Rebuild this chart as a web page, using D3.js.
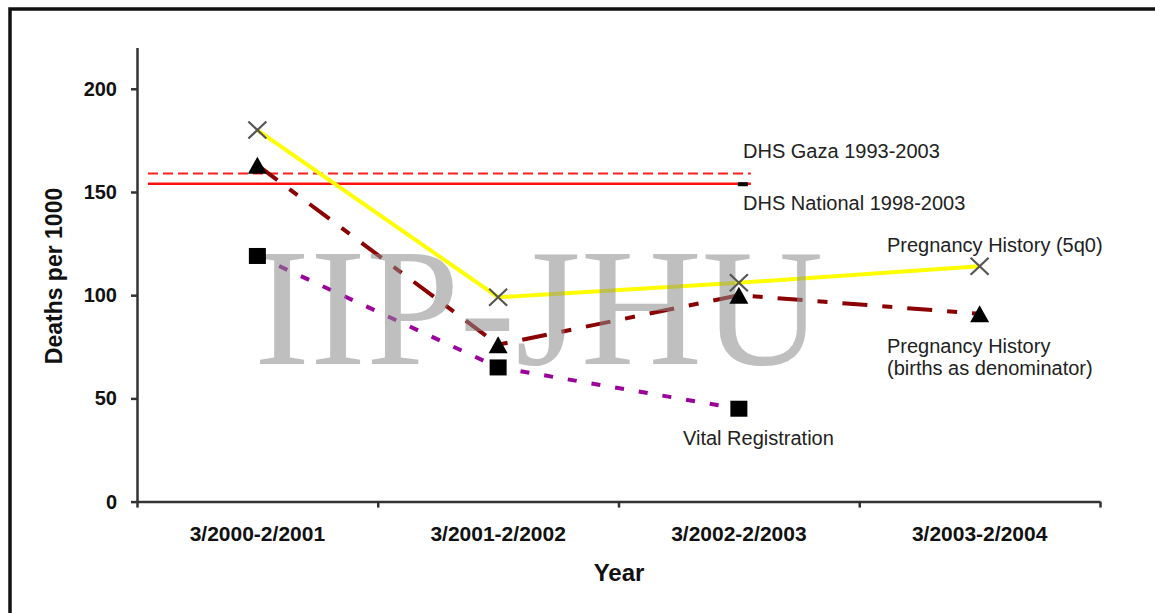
<!DOCTYPE html>
<html>
<head>
<meta charset="utf-8">
<script src="https://cdn.jsdelivr.net/npm/d3@7"></script>
<style>
    body { margin: 0; background: #fff; }
    text { font-family: "Liberation Sans", Arial, sans-serif; }
    .axis path, .axis line { stroke: #333; stroke-width: 2.5; }
    .axis text { font-size: 20px; font-weight: bold; fill: #111; font-family: "Liberation Sans", Arial, sans-serif; }
    .xAxis text { font-size: 21px; }
    .axisTitle { font-weight: bold; fill: #111; }
    .note { font-size: 20px; fill: #222; }
    .watermark { font-family: "Liberation Serif", "Times New Roman", serif; font-size: 168px; fill: #8c8c8c; opacity: 0.55; }
</style>
</head>
<body>
<div id="chart"></div>
<script>
/** ********************************
 *           Data
 ********************************** */

const categories = ["3/2000-2/2001", "3/2001-2/2002", "3/2002-2/2003", "3/2003-2/2004"];

// Deaths per 1000, one value per category (null = no value)
const pregnancyHistory5q0 = [180, 99, 106, 114];
const pregnancyHistoryBirths = [163, 76, 100, 91];
const vitalRegistration = [119, 65, 45, null];

// Reference levels
const dhsGaza = 159;
const dhsNational = 154;

const yTicks = [0, 50, 100, 150, 200];
const yMax = 220;

/** ********************************
 *           Layout
 ********************************** */

const plotWidth = 1155;
const plotHeight = 613;

const plot = { left: 137, right: 1100, top: 47.5, bottom: 501.6 };

var svg = d3.select("#chart")
    .append("svg")
        .attr("width", plotWidth)
        .attr("height", plotHeight);

// Frame (left and top edges only are visible)
svg.append("path")
    .attr("d", `M10,${plotHeight} L10,9 L${plotWidth},9`)
    .attr("fill", "none")
    .attr("stroke", "#111")
    .attr("stroke-width", 3.5);

// Scales
var xScale = d3.scaleBand().domain(categories).range([plot.left, plot.right]);
var yScale = d3.scaleLinear().domain([0, yMax]).range([plot.bottom, plot.top]);
var cx = c => xScale(c) + xScale.bandwidth() / 2;

/** ********************************
 *           Axes
 ********************************** */

// Y axis
svg.append("g")
    .attr("class", "axis")
    .attr("transform", `translate(${plot.left},0)`)
    .call(d3.axisLeft(yScale).tickValues(yTicks).tickSizeInner(6).tickSizeOuter(0).tickPadding(14));

// X axis: labels at band centres
svg.append("g")
    .attr("class", "axis xAxis")
    .attr("transform", `translate(0,${plot.bottom})`)
    .call(d3.axisBottom(xScale).tickSize(0).tickPadding(24.5))
    .call(g => g.select(".domain").remove());

// X axis: line with ticks at band edges
var edgeScale = d3.scaleLinear().domain([0, categories.length]).range([plot.left, plot.right]);
svg.append("g")
    .attr("class", "axis")
    .attr("transform", `translate(0,${plot.bottom})`)
    .call(d3.axisBottom(edgeScale).ticks(categories.length).tickFormat("").tickSizeInner(6).tickSizeOuter(0));

// Axis titles
svg.append("text")
    .attr("class", "axisTitle")
    .attr("transform", "translate(62,276) rotate(-90)")
    .attr("text-anchor", "middle")
    .style("font-size", "23px")
    .text("Deaths per 1000");

svg.append("text")
    .attr("class", "axisTitle")
    .attr("x", 619)
    .attr("y", 581)
    .attr("text-anchor", "middle")
    .style("font-size", "24px")
    .text("Year");

/** ********************************
 *       Reference lines (DHS)
 ********************************** */

const refX0 = plot.left + 11;
const refX1 = cx(categories[2]) + 12;

svg.append("line")
    .attr("x1", refX0).attr("x2", refX1)
    .attr("y1", yScale(dhsGaza)).attr("y2", yScale(dhsGaza))
    .attr("stroke", "#ff2020").attr("stroke-width", 2)
    .attr("stroke-dasharray", "10,5");

svg.append("line")
    .attr("x1", refX0).attr("x2", refX1)
    .attr("y1", yScale(dhsNational)).attr("y2", yScale(dhsNational))
    .attr("stroke", "#ff1010").attr("stroke-width", 2.5);

// small dash marker at end of national line
svg.append("rect")
    .attr("x", cx(categories[2]) - 1)
    .attr("y", yScale(dhsNational) - 1.5)
    .attr("width", 10).attr("height", 4)
    .attr("fill", "#000");

/** ********************************
 *           Series
 ********************************** */

const series = [
    { values: pregnancyHistory5q0, color: "#ffff00", dash: null, marker: "x" },
    { values: pregnancyHistoryBirths, color: "#8b0000", dash: "25,15,10,15", marker: "triangle" },
    { values: vitalRegistration, color: "#9b009b", dash: "9,15", marker: "square" }
];

var line = d3.line()
    .defined(d => d.v !== null)
    .x(d => cx(d.c))
    .y(d => yScale(d.v));

series.forEach(s => {
    s.points = categories.map((c, i) => ({ c: c, v: s.values[i] }));
});

var linesGroup = svg.append("g");
series.slice().reverse().forEach(s => {
    linesGroup.append("path")
        .datum(s.points)
        .attr("d", line)
        .attr("fill", "none")
        .attr("stroke", s.color)
        .attr("stroke-width", 4)
        .attr("stroke-dasharray", s.dash);
});

// Watermark
svg.append("text")
    .attr("class", "watermark")
    .attr("x", 254)
    .attr("y", 364)
    .text("IIP-JHU");

// Markers
const markerShapes = {
    x: g => g.append("path").attr("d", "M-9,-8.5L9,8.5M9,-8.5L-9,8.5")
        .attr("stroke", "#555").attr("stroke-width", 2.2).attr("fill", "none"),
    triangle: g => g.append("path").attr("d", "M0,-8.5L9.5,8.5L-9.5,8.5Z").attr("fill", "#000"),
    square: g => g.append("rect").attr("x", -8.5).attr("y", -8).attr("width", 17).attr("height", 16).attr("fill", "#000")
};

series.forEach(s => {
    svg.append("g").selectAll("g")
        .data(s.points.filter(d => d.v !== null))
        .join("g")
            .attr("transform", d => `translate(${cx(d.c)},${yScale(d.v)})`)
            .each(function () { markerShapes[s.marker](d3.select(this)); });
});

/** ********************************
 *           Annotations
 ********************************** */

const notes = [
    { text: "DHS Gaza 1993-2003", x: 743, y: 158 },
    { text: "DHS National 1998-2003", x: 743, y: 210 },
    { text: "Pregnancy History (5q0)", x: 887, y: 252 },
    { text: "Pregnancy History", x: 887, y: 353 },
    { text: "(births as denominator)", x: 887, y: 375 },
    { text: "Vital Registration", x: 683, y: 445 }
];

svg.append("g").selectAll("text")
    .data(notes)
    .join("text")
        .attr("class", "note")
        .attr("x", d => d.x)
        .attr("y", d => d.y)
        .text(d => d.text);
</script>
</body>
</html>
